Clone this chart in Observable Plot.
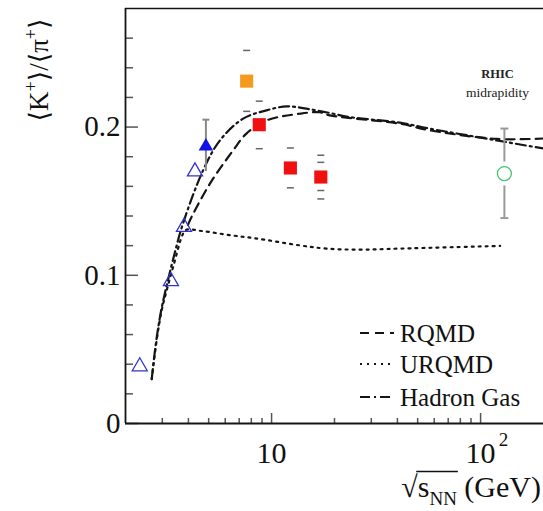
<!DOCTYPE html>
<html><head><meta charset="utf-8">
<script src="https://cdn.jsdelivr.net/npm/d3@7"></script>
<script src="https://cdn.jsdelivr.net/npm/@observablehq/plot@0.6"></script>
<style>html,body{margin:0;padding:0;background:#fff;} svg{display:block;}</style>
</head><body><div id="chart"></div>
<script>
// ---------- data ----------
const xDomain = [2, 200];
const yDomain = [0, 0.28];

// AGS open triangles
const agsX = [2.34, 3.30, 3.81, 4.30];
const agsY = [0.0385, 0.096, 0.1326, 0.170];
// filled triangle
const filledX = [4.85];
const filledY = [0.187];
const filledErrLo = [0.170];
const filledErrHi = [0.205];
// orange square
const orangeX = [7.6];
const orangeY = [0.231];
// red squares (SPS)
const redX = [8.73, 12.3, 17.2];
const redY = [0.2016, 0.1724, 0.1663];
// systematic error dashes
const sysX = [7.6, 7.6, 8.73, 8.73, 12.3, 12.3, 17.2, 17.2, 17.2, 17.2];
const sysY = [0.2517, 0.2106, 0.2175, 0.1854, 0.1859, 0.159, 0.181, 0.1762, 0.1572, 0.1515];
// RHIC open circle
const rhicX = [130];
const rhicY = [0.1686];
const rhicErrLo = [0.1386];
const rhicErrHi = [0.199];

// model curves
const rqmdX = [3.98, 4.14, 5.07, 6.55, 7.58, 9.46, 13.6, 17.0, 19.0, 41.1, 57.2, 119.6, 200];
const rqmdY = [0.134, 0.1393, 0.1618, 0.1843, 0.1956, 0.2045, 0.209, 0.210, 0.2079, 0.2023, 0.1978, 0.192, 0.1923];
const urqmdX = [2.67, 2.82, 2.98, 3.15, 3.38, 3.77, 3.92, 4.62, 6.55, 8.32, 13.6, 18.3, 26.5, 41, 124];
const urqmdY = [0.030, 0.0562, 0.0764, 0.0899, 0.1056, 0.128, 0.1308, 0.1299, 0.1268, 0.125, 0.1202, 0.118, 0.1173, 0.118, 0.1198];
const hgX = [2.67, 2.82, 3.0, 3.44, 3.77, 4.71, 5.66, 7.31, 9.46, 11.8, 14.7, 19.0, 23.7, 41.1, 57.2, 119.6, 200];
const hgY = [0.030, 0.058, 0.080, 0.115, 0.135, 0.171, 0.191, 0.2057, 0.2113, 0.214, 0.2124, 0.2095, 0.2067, 0.2030, 0.1989, 0.191, 0.1855];

// ticks
const yMajor = [0, 0.1, 0.2];
const yMinor = [0.02, 0.04, 0.06, 0.08, 0.12, 0.14, 0.16, 0.18, 0.22, 0.24, 0.26];
const xMajor = [10, 100];
const xMinor = [3, 4, 5, 6, 7, 8, 9, 20, 30, 40, 50, 60, 70, 80, 90];
const yTickLabels = ["0", "0.1", "0.2"];
const xTickLabels = ["10", "10"];
const xSup = ["", "2"];

const legendNames = ["RQMD", "URQMD", "Hadron Gas"];
const legendDash = ["9,6", "2,5", "10,4,2,4"];

// ---------- helpers ----------
const pts = (X, Y) => X.map((x, i) => ({x, y: Y[i]}));
const hdash = (w) => ({draw(ctx) { ctx.moveTo(-w / 2, 0); ctx.lineTo(w / 2, 0); }});
const serif = "Liberation Serif, DejaVu Serif, serif";
const lineColor = "#151515";

const svg = Plot.plot({
  width: 543, height: 511,
  marginLeft: 125, marginRight: 0, marginTop: 8, marginBottom: 88,
  style: {fontFamily: serif, background: "white", overflow: "visible"},
  x: {type: "log", domain: xDomain, label: null},
  y: {domain: yDomain, label: null},
  marks: [
    // ticks
    Plot.axisY({ticks: yMajor, tickSize: -13, fill: "none", stroke: "#555", strokeWidth: 1.5, label: null}),
    Plot.axisY({ticks: yMinor, tickSize: -8, fill: "none", stroke: "#555", strokeWidth: 1.5, label: null}),
    Plot.axisX({ticks: xMajor, tickSize: -10, fill: "none", stroke: "#555", strokeWidth: 1.5, label: null}),
    Plot.axisX({ticks: xMinor, tickSize: -5, fill: "none", stroke: "#555", strokeWidth: 1.5, label: null}),
    // tick labels
    Plot.axisY({ticks: yMajor, tickSize: 0, tickPadding: 5, fontSize: 29, fill: "#111",
      tickFormat: d => yTickLabels[yMajor.indexOf(d)], label: null}),
    Plot.text(xMajor, {x: d => d, y: yDomain[0], text: d => xTickLabels[xMajor.indexOf(d)], dy: 30,
      fontSize: 30, fill: "#111", textAnchor: "middle", lineAnchor: "middle"}),
    Plot.text(xMajor, {x: d => d, y: yDomain[0], text: d => xSup[xMajor.indexOf(d)], dx: 23, dy: 16,
      fontSize: 19, fill: "#111", textAnchor: "middle"}),
    // frame lines
    Plot.ruleX([xDomain[0]], {stroke: lineColor, strokeWidth: 1.8}),
    Plot.ruleY([yDomain[0]], {stroke: lineColor, strokeWidth: 1.8}),
    Plot.ruleY([yDomain[1]], {stroke: lineColor, strokeWidth: 1.5}),
    // model curves
    Plot.line(pts(urqmdX, urqmdY), {x: "x", y: "y", stroke: lineColor, strokeWidth: 2.2,
      strokeDasharray: legendDash[1], curve: "catmull-rom"}),
    Plot.line(pts(rqmdX, rqmdY), {x: "x", y: "y", stroke: lineColor, strokeWidth: 2.2,
      strokeDasharray: legendDash[0], curve: "catmull-rom"}),
    Plot.line(pts(hgX, hgY), {x: "x", y: "y", stroke: lineColor, strokeWidth: 2.2,
      strokeDasharray: legendDash[2], curve: "catmull-rom"}),
    // error bars
    Plot.ruleX(filledX.map((x, i) => ({x, lo: filledErrLo[i], hi: filledErrHi[i]})),
      {x: "x", y1: "lo", y2: "hi", stroke: "#888", strokeWidth: 2}),
    Plot.dot(filledX.map((x, i) => ({x, y: filledErrHi[i]})),
      {x: "x", y: "y", symbol: hdash(7), stroke: "#888", strokeWidth: 2, fill: "none"}),
    Plot.ruleX(rhicX.map((x, i) => ({x, lo: rhicErrLo[i], hi: rhicErrHi[i]})),
      {x: "x", y1: "lo", y2: "hi", stroke: "#999", strokeWidth: 2}),
    Plot.dot([...rhicX.map((x, i) => ({x, y: rhicErrLo[i]})), ...rhicX.map((x, i) => ({x, y: rhicErrHi[i]}))],
      {x: "x", y: "y", symbol: hdash(8), stroke: "#999", strokeWidth: 2, fill: "none"}),
    Plot.dot(pts(sysX, sysY), {x: "x", y: "y", symbol: hdash(7), stroke: "#666", strokeWidth: 1.5, fill: "none"}),
    // data points
    Plot.dot(pts(agsX, agsY), {x: "x", y: "y", symbol: "triangle", r: 5.6, stroke: "#3333cc", strokeWidth: 1.3, fill: "white", fillOpacity: 0}),
    Plot.dot(pts(filledX, filledY), {x: "x", y: "y", symbol: "triangle", r: 5.4, fill: "#1212e6", stroke: "none"}),
    Plot.dot(pts(orangeX, orangeY), {x: "x", y: "y", symbol: "square", r: 7.4, fill: "#f59a1e", stroke: "none"}),
    Plot.dot(pts(redX, redY), {x: "x", y: "y", symbol: "square", r: 7.4, fill: "#f01010", stroke: "none"}),
    Plot.dot(pts(rhicX, rhicY), {x: "x", y: "y", r: 12, fill: "white", stroke: "none"}),
    Plot.dot(pts(rhicX, rhicY), {x: "x", y: "y", r: 7, fill: "none", stroke: "#44c46e", strokeWidth: 1.3}),
    // annotation
    Plot.text(["RHIC"], {frameAnchor: "top-right", dx: -46, dy: 65, fontSize: 12.5, fontWeight: "bold", fill: "#222", textAnchor: "middle", lineAnchor: "middle"}),
    Plot.text(["midrapidity"], {frameAnchor: "top-right", dx: -46, dy: 84, fontSize: 13.5, fill: "#222", textAnchor: "middle", lineAnchor: "middle"})
  ]
});
document.getElementById("chart").appendChild(svg);

const s = d3.select(svg);
// legend
const legY = [333, 364, 397];
legendNames.forEach((name, i) => {
  s.append("line").attr("x1", 360).attr("x2", 394).attr("y1", legY[i]).attr("y2", legY[i])
    .attr("stroke", lineColor).attr("stroke-width", 2).attr("stroke-dasharray", legendDash[i]);
  s.append("text").attr("x", 400).attr("y", legY[i]).attr("dy", "0.35em").attr("text-anchor", "start")
    .attr("font-family", serif).attr("font-size", 25).attr("fill", "#111").text(name);
});

// y label
const yl = s.append("text").attr("transform", "translate(48,70) rotate(-90)")
  .attr("text-anchor", "middle").attr("font-family", serif).attr("font-size", 27).attr("fill", "#111");
[["\u27E8K", false], ["+", true], ["\u27E9/\u27E8\u03C0", false], ["+", true], ["\u27E9", false]].forEach(([t, sup]) => {
  const ts = yl.append("tspan").text(t);
  if (sup) ts.attr("font-size", 18).attr("baseline-shift", 11);
});

// x label
const xlBase = 497;
const xl = s.append("text").attr("x", 541).attr("y", xlBase).attr("text-anchor", "end")
  .attr("font-family", serif).attr("font-size", 30).attr("fill", "#111");
xl.append("tspan").text("\u221A");
xl.append("tspan").text("s");
xl.append("tspan").text("NN").attr("font-size", 19).attr("baseline-shift", -8);
xl.append("tspan").text(" (GeV)");
try {
  const node = xl.node();
  const x0 = node.getEndPositionOfChar(0).x;
  const x1 = node.getEndPositionOfChar(3).x;
  s.append("line").attr("x1", x0 - 1.5).attr("x2", x1 + 1).attr("y1", xlBase - 25.5).attr("y2", xlBase - 25.5)
    .attr("stroke", "#111").attr("stroke-width", 1.5);
} catch (e) {}
</script></body></html>
